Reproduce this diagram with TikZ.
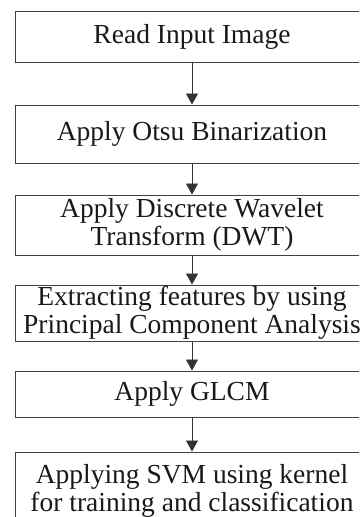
\documentclass[tikz,border=0pt]{standalone}
\usepackage{fontspec}
\setmainfont{Liberation Serif}
\usetikzlibrary{arrows.meta,positioning}

\begin{document}
\begin{tikzpicture}[x=1pt, y=-1pt, node distance=30pt,
  stage/.style={draw=black!75, line width=1pt, minimum width=354pt, align=center, inner sep=0pt, font=\fontsize{27.5}{27.5}\selectfont, text=black!90},
  flow/.style={draw=black!80, line width=0.9pt, -{Triangle[width=12pt,length=11pt]}}]

\clip (0,0) rectangle (359,517);

%chain of processing stages, top to bottom
\node[stage, minimum height=51pt] (read) at (192,36.5) {Read Input Image};
\node[stage, minimum height=58pt, below=42pt of read] (otsu) {Apply Otsu Binarization};
\node[stage, minimum height=60pt, below=31pt of otsu] (dwt) {Apply Discrete Wavelet\\Transform (DWT)};
\node[stage, minimum height=56pt, below=29pt of dwt] (pca) {Extracting features by using\\Principal Component Analysis};
\node[stage, minimum height=46pt, below=29pt of pca] (glcm) {Apply GLCM};
\node[stage, minimum height=78pt, below=34pt of glcm] (svm) {Applying SVM using kernel\\for training and classification};

%arrows between stages
\draw[flow] (read) -- (otsu);
\draw[flow] (otsu) -- (dwt);
\draw[flow] (dwt) -- (pca);
\draw[flow] (pca) -- (glcm);
\draw[flow] (glcm) -- (svm);

\end{tikzpicture}
\end{document}
